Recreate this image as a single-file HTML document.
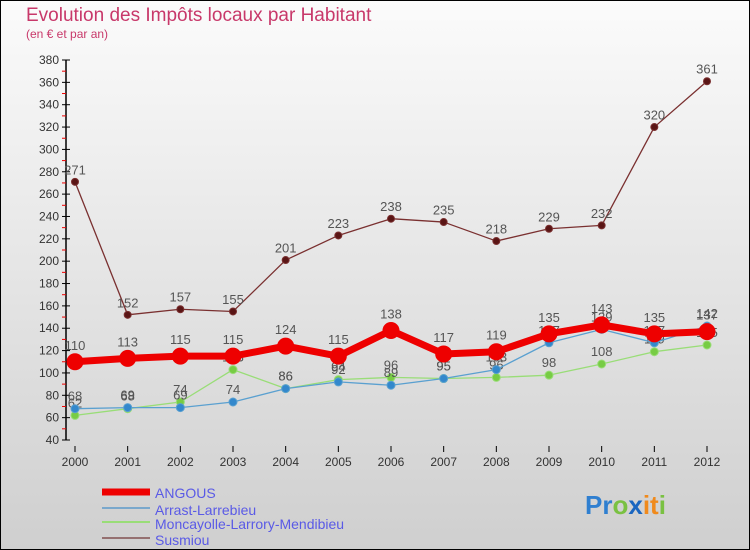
<!DOCTYPE html>
<html><head><meta charset="utf-8"><style>
body{margin:0;width:750px;height:550px;overflow:hidden}
svg{display:block;font-family:"Liberation Sans",sans-serif}
</style></head><body>
<svg id="c" width="750" height="550" xmlns="http://www.w3.org/2000/svg">
<defs><linearGradient id="bg" x1="0" y1="0" x2="0" y2="1"><stop offset="0" stop-color="#fbfbfb"/><stop offset="1" stop-color="#cfcfcf"/></linearGradient></defs>
<rect x="0.5" y="0.5" width="749" height="549" fill="url(#bg)" stroke="#000"/>
<text x="26" y="21" font-size="19" fill="#c8386a">Evolution des Impôts locaux par Habitant</text>
<text x="26" y="38" font-size="12" fill="#c8386a">(en € et par an)</text>
<g id="axes"></g><g id="series"></g>
<g>
<line x1="102" y1="492" x2="150" y2="492" stroke="#e00" stroke-width="7"/>
<text x="155" y="498" font-size="14" fill="#5a5ae6">ANGOUS</text>
<line x1="102" y1="508" x2="150" y2="508" stroke="#7aa8cc" stroke-width="2"/>
<text x="155" y="515" font-size="14" fill="#5a5ae6">Arrast-Larrebieu</text>
<line x1="102" y1="522" x2="150" y2="522" stroke="#99dd77" stroke-width="2"/>
<text x="155" y="529" font-size="14" fill="#5a5ae6">Moncayolle-Larrory-Mendibieu</text>
<line x1="102" y1="538" x2="150" y2="538" stroke="#957070" stroke-width="2"/>
<text x="155" y="545" font-size="14" fill="#5a5ae6">Susmiou</text>
</g>
<text x="585" y="514" font-size="26" font-weight="bold"><tspan fill="#2f7fd0">Pr</tspan><tspan fill="#7ac142">o</tspan><tspan fill="#1a66c0">x</tspan><tspan fill="#f08a1c">it</tspan><tspan fill="#7ac142">i</tspan></text>
</svg>
<script>
const years=[2000,2001,2002,2003,2004,2005,2006,2007,2008,2009,2010,2011,2012];
const angous=[110,113,115,115,124,115,138,117,119,135,143,135,137];
const arrast=[68,69,69,74,86,92,89,95,103,127,139,127,142];
const moncayolle=[62,68,74,103,86,94,96,95,96,98,108,119,125];
const susmiou=[271,152,157,155,201,223,238,235,218,229,232,320,361];
const yTicks=[40,60,80,100,120,140,160,180,200,220,240,260,280,300,320,340,360,380];
const NS="http://www.w3.org/2000/svg";
const X=i=>75+i*(707-75)/(years.length-1);
const Y=v=>440-(v-40)*(380/340);
function mk(t,a,p){const e=document.createElementNS(NS,t);for(const k in a)e.setAttribute(k,a[k]);p.appendChild(e);return e;}
const ax=document.getElementById('axes');
const axl=mk('line',{x1:66,y1:Y(380),x2:66,y2:Y(40),stroke:'#000','stroke-width':1.5},ax);


yTicks.forEach(v=>{
  mk('line',{x1:62,y1:Y(v),x2:70,y2:Y(v),stroke:'#000'},ax);
  mk('line',{x1:62,y1:Y(v+10),x2:66,y2:Y(v+10),stroke:'#e00'},ax).style.display=v<380?'':'none';
  const t=mk('text',{x:59,y:Y(v)+4,'font-size':12,fill:'#333','text-anchor':'end'},ax);
  t.textContent=v;
  
  
});
years.forEach((y,i)=>{
  mk('line',{x1:X(i),y1:446,x2:X(i),y2:452,stroke:'#000'},ax);
  const t=mk('text',{x:X(i),y:466,'font-size':12,fill:'#333','text-anchor':'middle'},ax);
  t.textContent=y;
  
  
});
const sg=document.getElementById('series');
function draw(data,color,w,r,dot,name){
  const g=mk('g',{},sg);
  
  
  mk('polyline',{points:data.map((v,i)=>X(i)+','+Y(v)).join(' '),fill:'none',stroke:color,'stroke-width':w,'stroke-linejoin':'round'},g);
  data.forEach((v,i)=>{
    const c=mk('circle',{cx:X(i),cy:Y(v),r:r,fill:dot,stroke:color,'stroke-width':1},g);
    
    
    const t=mk('text',{x:X(i),y:Y(v)-r-4,'font-size':13,fill:'#555','text-anchor':'middle'},g);
    t.textContent=v;
    
    
  });
}
draw(susmiou,'#7a3030',1.3,3.5,'#5a1515','susmiou');
draw(moncayolle,'#99dd77',1.3,4,'#77cc44','moncayolle');
draw(arrast,'#5aa0d0',1.3,4,'#3388cc','arrast');
draw(angous,'#ee0000',7,8,'#ee0000','angous');
</script>
</body></html>
